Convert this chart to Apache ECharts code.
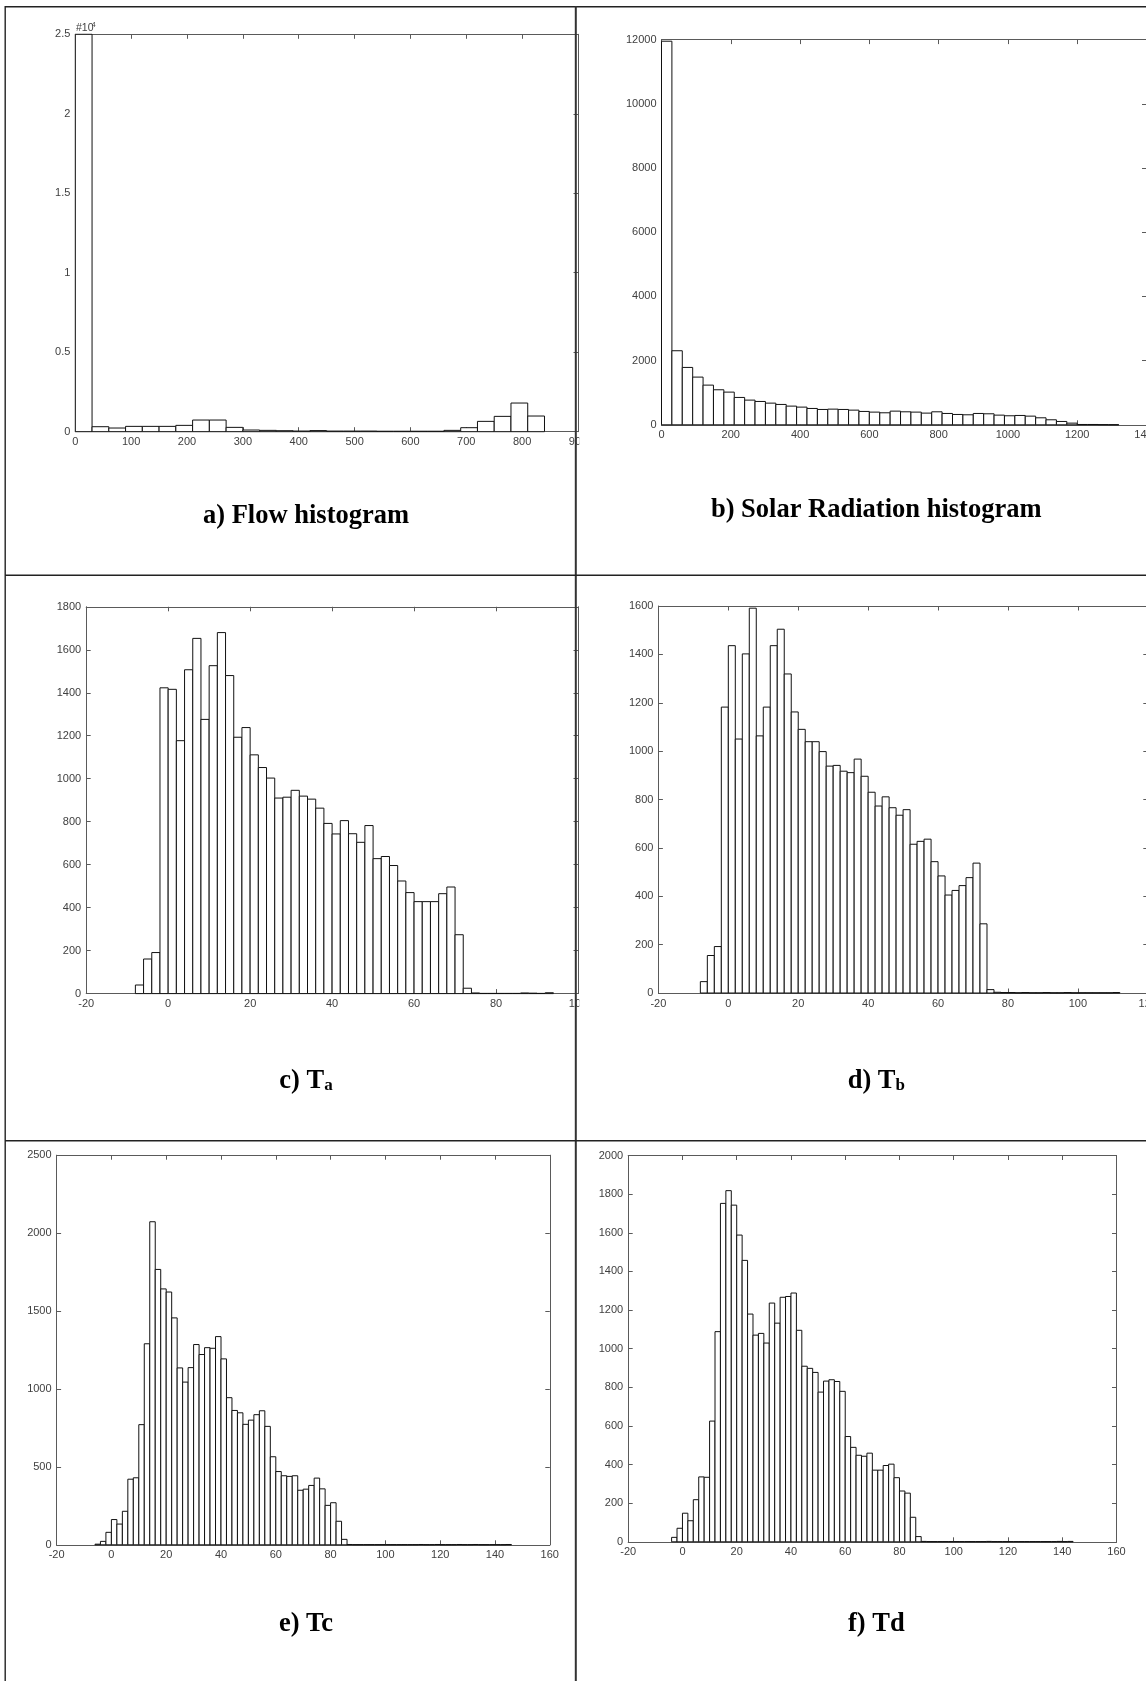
<!DOCTYPE html>
<html><head><meta charset="utf-8">
<script src="https://cdn.jsdelivr.net/npm/echarts@6/dist/echarts.min.js"></script>
<style>html,body{margin:0;padding:0;background:#fff;}#chart{width:1146px;height:1681px;}</style>
</head><body><div id="chart"></div>
<script>
// ---------- DATA ----------
// a) Flow histogram (bins of 30 starting at 0)
const flowBinStart = 0, flowBinWidth = 30;
const flowCounts = [25000, 314, 231, 335, 335, 335, 398, 734, 734, 273, 105, 84, 63, 42, 70, 40, 40, 40, 30, 30, 30, 30, 84, 252, 650, 965, 1803, 986];
const flowXTicks = [0, 900, 100];      // min, max, step
const flowYTicks = [0, 25000, 5000];

// b) Solar radiation histogram (bins of 30 starting at 0)
const solarBinStart = 0, solarBinWidth = 30;
const solarCounts = [11950, 2307, 1787, 1486, 1236, 1091, 1018, 852, 769, 727, 675, 634, 582, 551, 509, 478, 488, 478, 457, 416, 395, 374, 426, 405, 395, 364, 405, 353, 322, 312, 353, 343, 301, 281, 291, 270, 218, 156, 104, 52, 10, 10, 5, 3];
const solarXTicks = [0, 1400, 200];
const solarYTicks = [0, 12000, 2000];

// c) Ta (bins of 2 starting at -8)
const taBinStart = -8, taBinWidth = 2;
const taCounts = [40, 161, 191, 1423, 1416, 1177, 1507, 1653, 1276, 1526, 1680, 1480, 1193, 1238, 1111, 1052, 1003, 910, 914, 946, 919, 905, 863, 792, 743, 805, 744, 704, 782, 628, 638, 596, 524, 470, 428, 428, 428, 465, 496, 274, 25, 3, 1, 1, 1, 1, 1, 3, 2, 1, 4];
const taXTicks = [-20, 100, 20];
const taYTicks = [0, 1800, 200];

// d) Tb (bins of 2 starting at -8)
const tbBinStart = -8, tbBinWidth = 2;
const tbCounts = [47, 155, 192, 1182, 1436, 1050, 1402, 1591, 1063, 1182, 1436, 1504, 1319, 1162, 1090, 1039, 1039, 998, 938, 941, 917, 911, 967, 896, 830, 773, 811, 766, 735, 758, 615, 627, 636, 543, 484, 405, 424, 444, 477, 537, 286, 14, 3, 2, 2, 1, 2, 1, 1, 2, 1, 1, 2, 1, 1, 1, 1, 1, 1, 2];
const tbXTicks = [-20, 120, 20];
const tbYTicks = [0, 1600, 200];

// e) Tc (bins of 2 starting at -6)
const tcBinStart = -6, tcBinWidth = 2;
const tcCounts = [4, 22, 80, 162, 133, 215, 421, 430, 771, 1290, 2073, 1767, 1642, 1622, 1456, 1135, 1044, 1137, 1285, 1221, 1265, 1261, 1336, 1193, 944, 862, 847, 773, 800, 835, 860, 760, 565, 470, 443, 439, 443, 350, 357, 381, 428, 359, 253, 270, 151, 35, 2, 1, 1, 1, 1, 1, 1, 1, 1, 1, 1, 1, 1, 2, 1, 1, 2, 1, 1, 1, 2, 1, 1, 2, 1, 1, 1, 1, 1, 2];
const tcXTicks = [-20, 160, 20];
const tcYTicks = [0, 2500, 500];

// f) Td (bins of 2 starting at -4)
const tdBinStart = -4, tdBinWidth = 2;
const tdCounts = [23, 70, 148, 109, 218, 336, 334, 625, 1088, 1752, 1818, 1743, 1588, 1457, 1179, 1070, 1079, 1029, 1236, 1132, 1266, 1270, 1288, 1095, 909, 898, 877, 775, 832, 839, 830, 779, 545, 489, 448, 443, 459, 371, 371, 395, 402, 332, 263, 252, 127, 27, 2, 1, 1, 1, 1, 1, 1, 1, 1, 1, 1, 1, 2, 1, 1, 1, 1, 1, 1, 1, 1, 1, 1, 1, 1, 2, 1, 2];
const tdXTicks = [-20, 160, 20];
const tdYTicks = [0, 2000, 200];

const titles = ['a) Flow histogram', 'b) Solar Radiation histogram', 'c) T', 'd) T', 'e) Tc', 'f) Td'];
const subscripts = ['', '', 'a', 'b', '', ''];
const flowScaleLabel = '#10';
const flowScaleExp = '4';

// ---------- LAYOUT ----------
const panels = [
  {counts: flowCounts, start: flowBinStart, width: flowBinWidth, xt: flowXTicks, yt: flowYTicks, grid: {left: 75.3, top: 34.3, width: 502.7, height: 397.4}, yfmt: v => String(v / 10000)},
  {counts: solarCounts, start: solarBinStart, width: solarBinWidth, xt: solarXTicks, yt: solarYTicks, grid: {left: 661.5, top: 39.6, width: 485, height: 385.2}},
  {counts: taCounts, start: taBinStart, width: taBinWidth, xt: taXTicks, yt: taYTicks, grid: {left: 86.2, top: 606.8, width: 491.8, height: 386.8}},
  {counts: tbCounts, start: tbBinStart, width: tbBinWidth, xt: tbXTicks, yt: tbYTicks, grid: {left: 658.4, top: 606.0, width: 489.4, height: 387}},
  {counts: tcCounts, start: tcBinStart, width: tcBinWidth, xt: tcXTicks, yt: tcYTicks, grid: {left: 56.6, top: 1155.2, width: 493.2, height: 389.6}},
  {counts: tdCounts, start: tdBinStart, width: tdBinWidth, xt: tdXTicks, yt: tdYTicks, grid: {left: 628.2, top: 1155.5, width: 488.3, height: 386.3}}
];
const titlePos = [[306, 516.4], [876.2, 510.5], [306, 1081.5], [876.3, 1081.5], [306, 1624.5], [876.3, 1624]];

const AX = '#5a5a5a', LB = '#404040';
const LFONT = '"Liberation Sans", Arial, sans-serif';
const SERIF = '"Liberation Serif", "Times New Roman", serif';

function axisCommon(range, show, pos, gi, fmt) {
  return {
    gridIndex: gi, type: 'value', position: pos, min: range[0], max: range[1], interval: range[2],
    axisLine: {show: true, onZero: false, lineStyle: {color: AX, width: 1}},
    axisTick: {show: true, inside: true, length: 4.5, lineStyle: {color: AX, width: 1}},
    axisLabel: {show: show, margin: 5, color: LB, fontSize: 11, fontFamily: LFONT, formatter: fmt || (v => String(v)), showMinLabel: true, showMaxLabel: true, hideOverlap: false},
    splitLine: {show: false}, minorTick: {show: false}
  };
}

function renderBar(params, api) {
  const x0 = api.value(0), x1 = api.value(1), v = api.value(2);
  const p0 = api.coord([x0, 0]), p1 = api.coord([x1, v]);
  return {type: 'rect', shape: {x: p0[0], y: p1[1], width: p1[0] - p0[0], height: p0[1] - p1[1]},
    style: {fill: '#ffffff', stroke: '#111111', lineWidth: 1}};
}

const grid = [], xAxis = [], yAxis = [], series = [];
panels.forEach((p, i) => {
  grid.push(Object.assign({outerBoundsMode: 'none', containLabel: false}, p.grid));
  xAxis.push(axisCommon(p.xt, true, 'bottom', i));
  xAxis.push(axisCommon(p.xt, false, 'top', i));
  yAxis.push(axisCommon(p.yt, true, 'left', i, p.yfmt));
  yAxis.push(axisCommon(p.yt, false, 'right', i));
  const data = p.counts.map((c, k) => [p.start + k * p.width, p.start + (k + 1) * p.width, c]);
  series.push({type: 'custom', xAxisIndex: 2 * i, yAxisIndex: 2 * i, data: data, renderItem: renderBar,
    encode: {x: [0, 1], y: 2}, silent: true, animation: false, z: 2});
});

const graphics = [];
// white mask: left-column pictures are cut just right of the cell divider
graphics.push({type: 'rect', shape: {x: 579.3, y: 8, width: 14, height: 1132}, style: {fill: '#ffffff'}, z: 50, silent: true});
// table lines
const LINE = '#222222';
graphics.push({type: 'line', shape: {x1: 5, y1: 6.7, x2: 1146, y2: 6.7}, style: {stroke: LINE, lineWidth: 1.4}, z: 60});
graphics.push({type: 'line', shape: {x1: 5.2, y1: 6, x2: 5.2, y2: 1681}, style: {stroke: LINE, lineWidth: 1.4}, z: 60});
graphics.push({type: 'line', shape: {x1: 575.8, y1: 6, x2: 575.8, y2: 1681}, style: {stroke: '#333333', lineWidth: 2}, z: 60});
graphics.push({type: 'line', shape: {x1: 5, y1: 575.3, x2: 1146, y2: 575.3}, style: {stroke: LINE, lineWidth: 1.4}, z: 60});
graphics.push({type: 'line', shape: {x1: 5, y1: 1140.8, x2: 1146, y2: 1140.8}, style: {stroke: LINE, lineWidth: 1.4}, z: 60});

// titles
titles.forEach((t, i) => {
  const rich = {
    m: {fontSize: 26.5, fontWeight: 'bold', fontFamily: SERIF, fill: '#000', lineHeight: 26},
    s: {fontSize: 17, fontWeight: 'bold', fontFamily: SERIF, fill: '#000', lineHeight: 20, verticalAlign: 'bottom'}
  };
  const txt = subscripts[i] ? '{m|' + t + '}{s|' + subscripts[i] + '}' : '{m|' + t + '}';
  graphics.push({type: 'text', x: titlePos[i][0], y: titlePos[i][1], z: 70,
    style: {text: txt, rich: rich, align: 'center', verticalAlign: 'middle', textAlign: 'center', textVerticalAlign: 'middle'}});
});
// scale factor label of panel a
graphics.push({type: 'text', x: 76, y: 28, z: 70, style: {text: flowScaleLabel, fontSize: 10.5, fontFamily: LFONT, fill: LB, align: 'left', verticalAlign: 'middle', textAlign: 'left', textVerticalAlign: 'middle'}});
graphics.push({type: 'text', x: 91.8, y: 24.6, z: 70, style: {text: flowScaleExp, fontSize: 7, fontFamily: LFONT, fill: LB, align: 'left', verticalAlign: 'middle', textAlign: 'left', textVerticalAlign: 'middle'}});

const chart = echarts.init(document.getElementById('chart'), null, {renderer: 'canvas', width: 1146, height: 1681});
chart.setOption({animation: false, backgroundColor: '#ffffff', grid, xAxis, yAxis, series, graphic: {elements: graphics}});
</script>
</body></html>
